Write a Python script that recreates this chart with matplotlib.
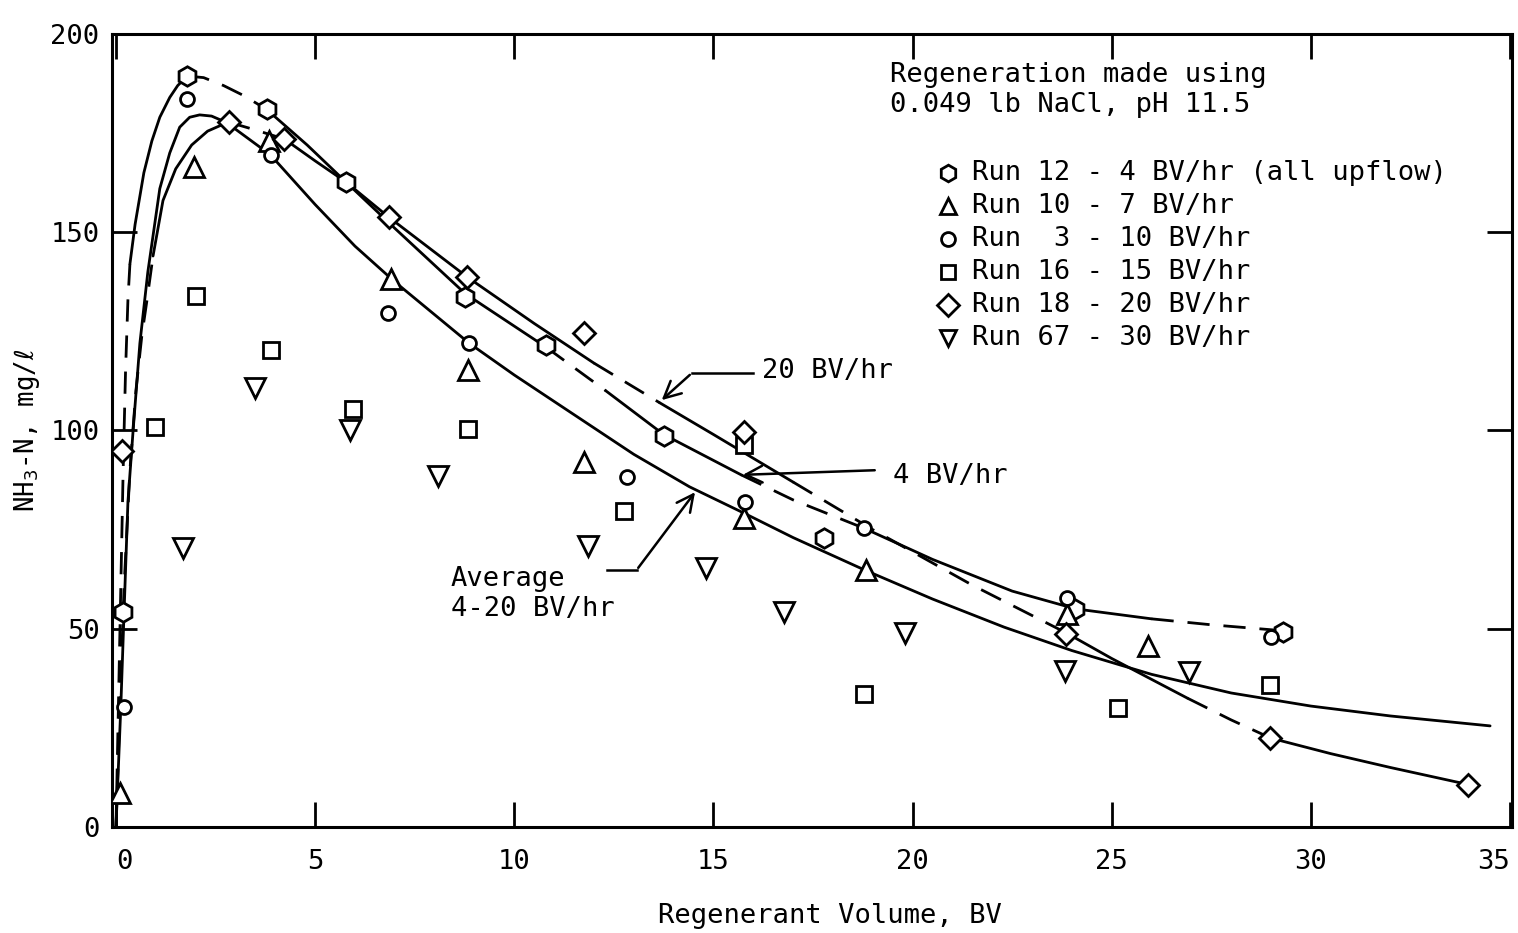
import matplotlib.pyplot as plt

plt.rcParams['font.family'] = ['DejaVu Sans Mono', 'DejaVu Sans']
plt.rcParams['font.size'] = 19.5

# measured points, NH3-N (mg/l) vs regenerant volume (BV)
run12_x = [0.18, 1.79, 3.78, 5.77, 8.77, 10.8, 13.75, 17.78, 24.08, 29.3]
run12_y = [54.2, 189.4, 181.1, 162.7, 133.7, 121.6, 98.6, 72.9, 55.0, 49.2]

run10_x = [0.1, 1.96, 3.85, 6.9, 8.84, 11.76, 15.77, 18.84, 23.88, 25.92]
run10_y = [8.6, 166.5, 173.0, 138.2, 115.3, 92.1, 77.9, 64.8, 53.7, 45.6]

run3_x = [0.2, 1.79, 3.88, 6.83, 8.87, 12.82, 15.8, 18.77, 23.88, 29.0]
run3_y = [30.3, 183.6, 169.5, 129.6, 122.1, 88.3, 82.0, 75.4, 57.8, 47.9]

run16_x = [0.98, 2.02, 3.88, 5.94, 8.84, 12.75, 15.77, 18.77, 25.16, 28.97]
run16_y = [100.9, 133.9, 120.3, 105.4, 100.4, 79.7, 96.3, 33.5, 30.0, 35.8]

run18_x = [0.15, 2.85, 4.23, 6.85, 8.82, 11.74, 15.77, 23.85, 28.97, 33.95]
run18_y = [94.8, 177.8, 173.5, 153.8, 138.7, 124.6, 99.6, 48.7, 22.4, 10.6]

run67_x = [1.69, 3.48, 5.87, 8.09, 11.86, 14.81, 16.78, 19.8, 23.83, 26.93]
run67_y = [70.4, 110.7, 100.1, 88.5, 70.9, 65.3, 54.2, 48.9, 39.3, 39.1]

# hand-drawn curves
c4_x = [0, 0.06, 0.12, 0.18, 0.24, 0.3, 0.35, 0.48, 0.7, 0.9, 1.1, 1.35, 1.55, 1.79,
        2.2, 2.7, 3.2, 3.78, 4.8, 5.77, 7.0, 8.77, 10.8, 12.3, 13.75, 15.7, 17.0,
        18.77, 20.5, 22.5, 24.1, 26.0, 27.5, 29.3]
c4_y = [0, 30, 60, 90, 115, 133, 142, 152, 165, 173, 179, 184, 187, 189.4,
        189, 187, 184.5, 181, 172, 162.7, 151, 134.5, 121, 110, 99, 88.8, 82.5,
        75.4, 67.5, 59.5, 55, 52.5, 51, 49.5]

c20_x = [0, 0.1, 0.2, 0.35, 0.5, 0.65, 0.78, 0.93, 1.18, 1.5, 1.9, 2.3, 2.82, 3.5,
         4.23, 5.0, 5.77, 6.85, 8.82, 10.5, 12.0, 13.65, 15.0, 17.0, 19.0, 21.5,
         23.85, 25.0, 26.9, 28.0, 29.0, 30.5, 32.0, 34.0]
c20_y = [0, 30, 60, 90, 110, 124, 133, 144, 158, 166, 172, 175.5, 177.8, 175.8,
         173.5, 168, 162.7, 153.8, 138.7, 127, 117, 107, 99, 87, 75, 61,
         49, 42.5, 32.5, 27, 22.4, 18.5, 15, 10.6]

avg_x = [0, 0.12, 0.23, 0.3, 0.43, 0.6, 0.8, 1.1, 1.35, 1.6, 1.85, 2.1, 2.4, 2.7,
         3.0, 3.88, 5.0, 6.0, 7.0, 8.87, 10.0, 11.5, 13.0, 14.4, 15.8, 17.0, 18.8,
         20.5, 22.3, 24.0, 26.0, 28.0, 30.0, 32.0, 34.5]
avg_y = [0, 30, 62, 82, 100, 122, 140, 161, 170, 176.5, 179, 179.6, 179.3, 178,
         176, 169.5, 157, 146.5, 137.5, 122, 114, 104, 94, 85.8, 79, 73, 64.8,
         57.5, 50.4, 44.5, 38.5, 33.8, 30.5, 28, 25.5]

x_ticks = [0, 5, 10, 15, 20, 25, 30, 35]
y_ticks = [0, 50, 100, 150, 200]

DASH = (0, (8, 5))

fig = plt.figure(figsize=(15.18, 9.33), dpi=100)
ax = fig.add_axes([112 / 1518, 106 / 933, 1400 / 1518, 793 / 933])


def draw_curve(xs, ys, breaks, styles):
    idx = [0] + [xs.index(b) for b in breaks] + [len(xs) - 1]
    for k, ls in enumerate(styles):
        a, b = idx[k], idx[k + 1]
        ax.plot(xs[a:b + 1], ys[a:b + 1], color='black', lw=2, ls=ls,
                solid_capstyle='round', zorder=2)


draw_curve(c4_x, c4_y, [0.35, 1.79, 3.78, 10.8, 12.3, 15.7, 18.77, 26.0],
           [DASH, '-', DASH, '-', DASH, '-', DASH, '-', DASH])
draw_curve(c20_x, c20_y, [0.93, 2.82, 4.23, 12.0, 13.65, 17.0, 23.85, 26.9, 29.0],
           [DASH, '-', DASH, '-', DASH, '-', DASH, '-', DASH, '-'])
draw_curve(avg_x, avg_y, [], ['-'])

mk = dict(ls='none', mfc='white', mec='black', mew=2, zorder=3)
ax.plot(run12_x, run12_y, marker='h', ms=14, **mk)
ax.plot(run10_x, run10_y, marker='^', ms=14, **mk)
ax.plot(run3_x, run3_y, marker='o', ms=10, **mk)
ax.plot(run16_x, run16_y, marker='s', ms=11, **mk)
ax.plot(run18_x, run18_y, marker='D', ms=11, **mk)
ax.plot(run67_x, run67_y, marker='v', ms=14, **mk)

# legend drawn by hand
legend_labels = ["Run 12 - 4 BV/hr (all upflow)", "Run 10 - 7 BV/hr",
                 "Run  3 - 10 BV/hr", "Run 16 - 15 BV/hr",
                 "Run 18 - 20 BV/hr", "Run 67 - 30 BV/hr"]
legend_markers = [('h', 12), ('^', 12), ('o', 10), ('s', 10), ('D', 11), ('v', 12)]
ax.text(0.5557, 0.948, "Regeneration made using", transform=ax.transAxes,
        ha='left', va='center')
ax.text(0.5557, 0.910, "0.049 lb NaCl, pH 11.5", transform=ax.transAxes,
        ha='left', va='center')
for i, (lab, (m, s)) in enumerate(zip(legend_labels, legend_markers)):
    yy = 0.8247 - i * 0.0416
    ax.plot([0.597], [yy], marker=m, ms=s, mfc='white', mec='black', mew=2,
            transform=ax.transAxes, clip_on=False)
    ax.text(0.614, yy, lab, transform=ax.transAxes, ha='left', va='center')

# annotations
ax.plot([16.0, 14.46], [114.5, 114.5], color='black', lw=1.8)
ax.annotate("", xy=(13.65, 107.2), xytext=(14.46, 114.5),
            arrowprops=dict(arrowstyle='->', lw=1.8, mutation_scale=30))
ax.text(16.22, 115, "20 BV/hr", ha='left', va='center')

ax.annotate("", xy=(15.67, 88.8), xytext=(19.12, 90.0),
            arrowprops=dict(arrowstyle='->', lw=1.8, mutation_scale=30))
ax.text(19.5, 88.5, "4 BV/hr", ha='left', va='center')

ax.plot([12.32, 13.07], [64.8, 64.8], color='black', lw=1.8)
ax.annotate("", xy=(14.58, 85.0), xytext=(13.07, 64.8),
            arrowprops=dict(arrowstyle='->', lw=1.8, mutation_scale=30))
ax.text(8.41, 58.8, "Average\n4-20 BV/hr", ha='left', va='center', linespacing=1.2)

ax.set_xlim(-0.1, 35.05)
ax.set_ylim(0, 200)
ax.set_xticks(x_ticks)
ax.set_yticks(y_ticks)
ax.tick_params(axis='both', direction='in', length=18, width=2,
               top=True, right=True)
ax.tick_params(axis='x', pad=16)
ax.tick_params(axis='y', pad=9)
xlabels = ax.get_xticklabels()
xlabels[0].set_ha('left')
xlabels[-1].set_ha('right')
for sp in ax.spines.values():
    sp.set_linewidth(2.2)

ax.set_xlabel("Regenerant Volume, BV")
ax.xaxis.set_label_coords(0.513, -0.096)
ax.set_ylabel(r"NH$_3$-N, mg/$\ell$", fontsize=18.5)
ax.yaxis.set_label_coords(-0.05, 0.5)

plt.savefig("out.png", dpi=100)
